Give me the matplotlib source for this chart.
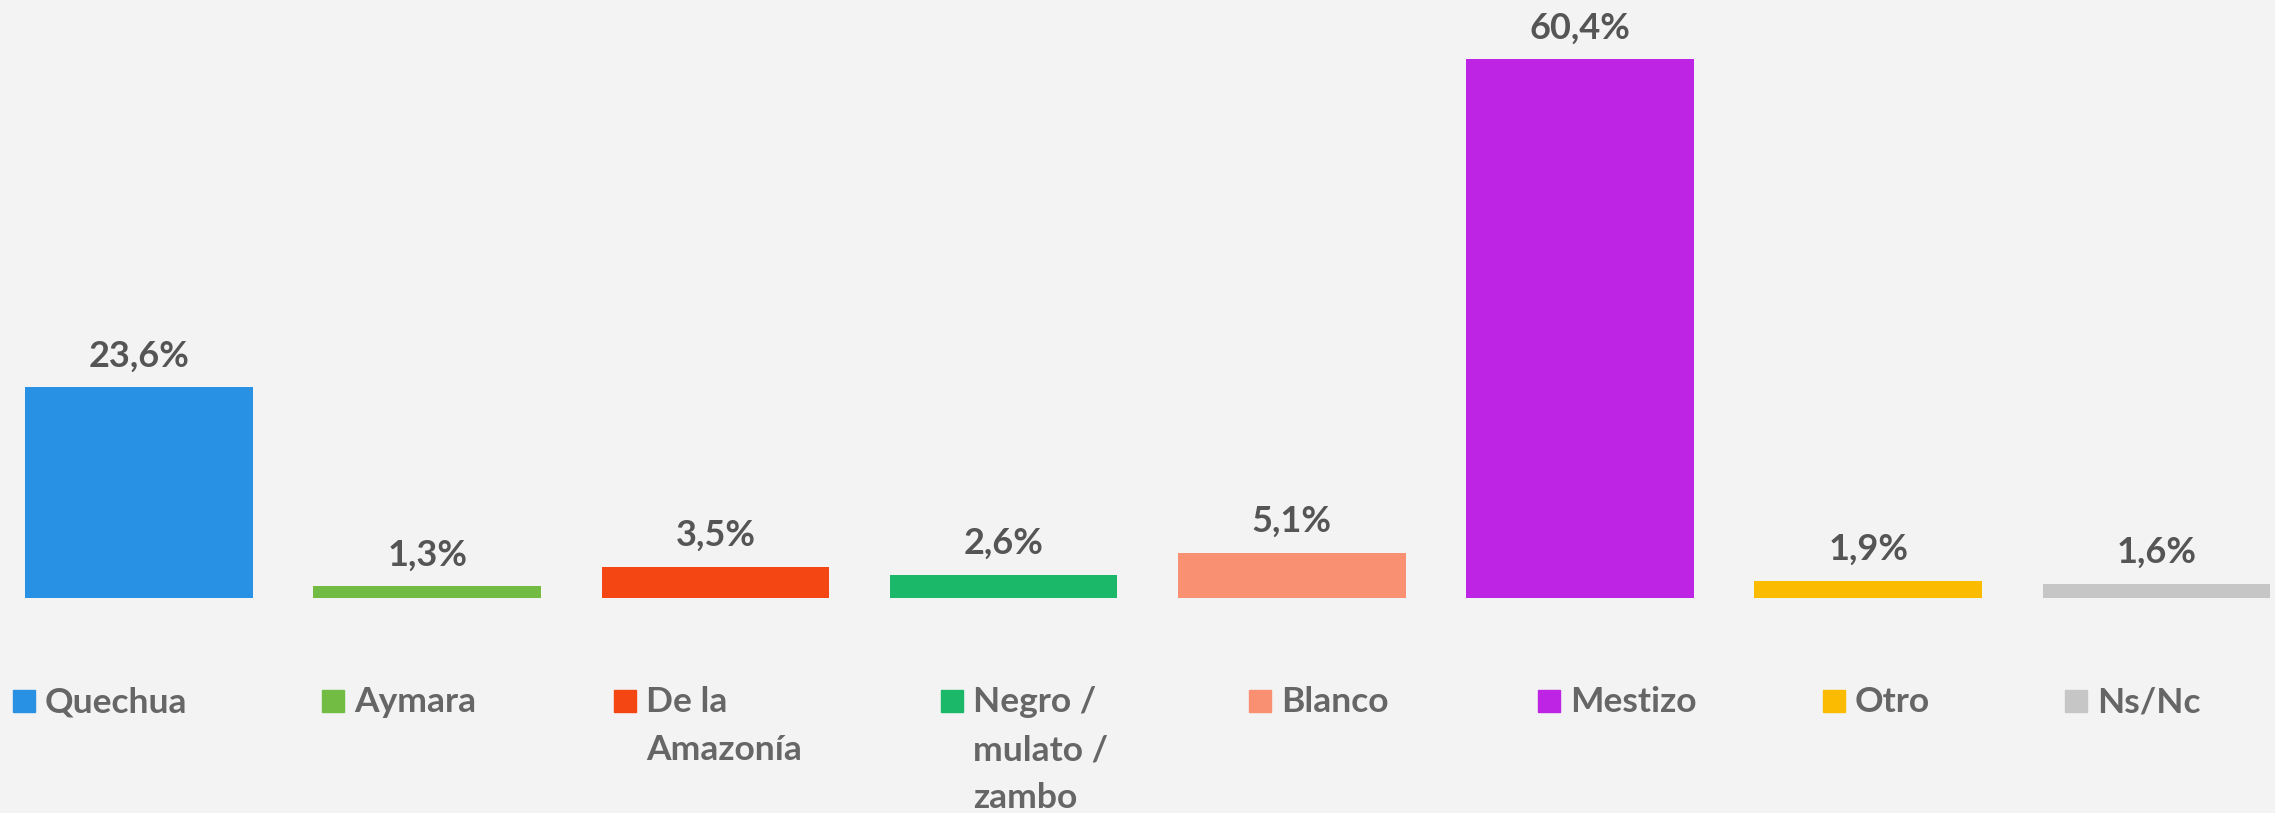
import matplotlib.pyplot as plt
from matplotlib.patches import Rectangle

categories = ['Quechua', 'Aymara', 'De la\nAmazonía', 'Negro /\nmulato /\nzambo',
              'Blanco', 'Mestizo', 'Otro', 'Ns/Nc']
values = [23.6, 1.3, 3.5, 2.6, 5.1, 60.4, 1.9, 1.6]
colors = ['#2891E3', '#72BC44', '#F44613', '#1AB868',
          '#F99071', '#BD24E3', '#FABB00', '#C6C6C6']

# legend item left edges in pixels (layout)
legend_x = [13, 322, 614, 941, 1249, 1538, 1823, 2065]

W, H = 2275, 813
bg = '#F3F3F3'

fig = plt.figure(figsize=(W / 100, H / 100), dpi=100, facecolor=bg)
ax = fig.add_axes([0, 1 - 598 / H, 1, 598 / H])
ax.set_facecolor(bg)

pos = list(range(len(values)))
ax.bar(pos, values, width=0.79, color=colors)
ax.set_xlim(-0.482, 7.411)
ax.set_ylim(0, 598 / 8.92)
ax.axis('off')

for p, v in zip(pos, values):
    ax.annotate(f'{v:.1f}%'.replace('.', ','), (p, v), xytext=(0, 15),
                textcoords='offset points', ha='center', va='baseline',
                fontsize=26, fontweight='bold', family='Lato', color='#555555')

# legend: square + wrapped label, one text per line (48 px line step)
sq = 22
for x, name, c in zip(legend_x, categories, colors):
    fig.patches.append(Rectangle((x / W, 1 - 712 / H), sq / W, sq / H,
                                 transform=fig.transFigure, color=c))
    for i, line in enumerate(name.split('\n')):
        fig.text((x + 32) / W, 1 - (712 + 48 * i) / H, line, ha='left',
                 va='baseline', fontsize=25.5, fontweight='bold',
                 family='Lato', color='#666666')

fig.savefig('out.png', dpi=100, facecolor=bg)
